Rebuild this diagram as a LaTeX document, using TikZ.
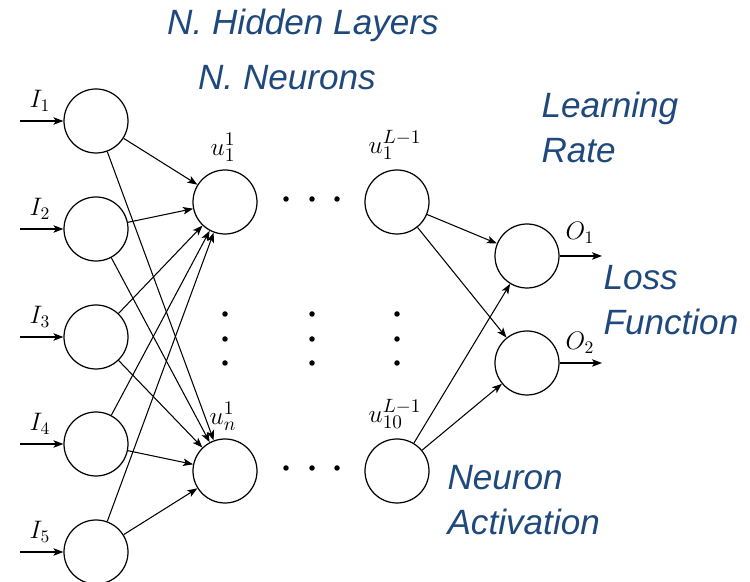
\documentclass[tikz,border=0pt]{standalone}
\usepackage{fontspec}
\usetikzlibrary{positioning,arrows.meta}
\newfontfamily\notefont{Liberation Sans}
\definecolor{NoteBlue}{HTML}{1F497D}

\begin{document}
\begin{tikzpicture}[>={Stealth[length=2mm,width=1.5mm,inset=0.5mm]},
                    neuron/.style={draw, circle, minimum size=1.28cm, line width=0.7pt},
                    every path/.style={line width=0.6pt},
                    lbl/.style={font=\fontsize{14}{16}\selectfont, inner sep=1pt},
                    ulbl/.style={font=\fontsize{15.5}{17}\selectfont, inner sep=1pt},
                    note/.style={text=NoteBlue, font=\notefont\itshape\fontsize{20}{26}\selectfont,
                                 align=left, inner sep=0pt}]
\useasboundingbox (0,0) rectangle (15,-11.64);
% input layer
\node[neuron] (in1) at (1.92,-2.42) {};
\node[neuron] (in2) at (1.92,-4.58) {};
\node[neuron] (in3) at (1.92,-6.74) {};
\node[neuron] (in4) at (1.92,-8.88) {};
\node[neuron] (in5) at (1.92,-11.04) {};
% hidden layers
\node[neuron] (h1) at (4.5,-4.04) {};
\node[neuron] (hn) at (4.5,-9.42) {};
\node[neuron] (hL1) at (7.94,-4.04) {};
\node[neuron] (hL10) at (7.94,-9.42) {};
% output layer
\node[neuron] (out1) at (10.54,-5.12) {};
\node[neuron] (out2) at (10.54,-7.26) {};

% labels
\node[lbl] (lI1) at (0.8,-2.02) {$I_1$};
\node[lbl] (lI2) at (0.8,-4.18) {$I_2$};
\node[lbl] (lI3) at (0.8,-6.34) {$I_3$};
\node[lbl] (lI4) at (0.8,-8.48) {$I_4$};
\node[lbl] (lI5) at (0.8,-10.64) {$I_5$};
\node[ulbl] (lh1) at (4.46,-2.95) {$u_1^1$};
\node[ulbl] (lhn) at (4.46,-8.33) {$u_n^1$};
\node[ulbl] (lhL1) at (7.9,-2.9) {$u_1^{L-1}$};
\node[ulbl] (lhL10) at (7.9,-8.28) {$u_{10}^{L-1}$};
\node[lbl] (lO1) at (11.6,-4.66) {$O_1$};
\node[lbl] (lO2) at (11.6,-6.86) {$O_2$};

% inputs and outputs
\coordinate (x1) at (0.4,-2.42);
\coordinate (x2) at (0.4,-4.58);
\coordinate (x3) at (0.4,-6.74);
\coordinate (x4) at (0.4,-8.88);
\coordinate (x5) at (0.4,-11.04);
\coordinate (y1) at (12.04,-5.12);
\coordinate (y2) at (12.04,-7.26);
\draw[->] (x1) -- (in1);
\draw[->] (x2) -- (in2);
\draw[->] (x3) -- (in3);
\draw[->] (x4) -- (in4);
\draw[->] (x5) -- (in5);
\draw[->] (out1) -- (y1);
\draw[->] (out2) -- (y2);

% weights, input -> first hidden layer
\draw[->] (in1) -- (h1);
\draw[->] (in1) -- (hn);
\draw[->] (in2) -- (h1);
\draw[->] (in2) -- (hn);
\draw[->] (in3) -- (h1);
\draw[->] (in3) -- (hn);
\draw[->] (in4) -- (h1);
\draw[->] (in4) -- (hn);
\draw[->] (in5) -- (h1);
\draw[->] (in5) -- (hn);
% last hidden layer -> output
\draw[->] (hL1) -- (out1);
\draw[->] (hL1) -- (out2);
\draw[->] (hL10) -- (out1);
\draw[->] (hL10) -- (out2);

% ellipsis dots
\fill (5.72,-3.98) circle (0.055) (6.24,-3.98) circle (0.055) (6.74,-3.98) circle (0.055);
\fill (5.72,-9.36) circle (0.055) (6.24,-9.36) circle (0.055) (6.74,-9.36) circle (0.055);
\fill (4.5,-6.28) circle (0.055) (4.5,-6.78) circle (0.055) (4.5,-7.26) circle (0.055);
\fill (6.24,-6.28) circle (0.055) (6.24,-6.78) circle (0.055) (6.24,-7.26) circle (0.055);
\fill (7.94,-6.28) circle (0.055) (7.94,-6.78) circle (0.055) (7.94,-7.26) circle (0.055);

% hyperparameter notes
\node[note] (layers) at (6.06,-0.5) {N. Hidden Layers};
\node[note] (neurons) at (5.74,-1.56) {N. Neurons};
\node[note, anchor=west] (rate) at (10.82,-2.55) {Learning\\Rate};
\node[note, anchor=west] (loss) at (12.06,-6.0) {Loss\\Function};
\node[note, anchor=west] (act) at (8.94,-10.0) {Neuron\\Activation};
\end{tikzpicture}
\end{document}
